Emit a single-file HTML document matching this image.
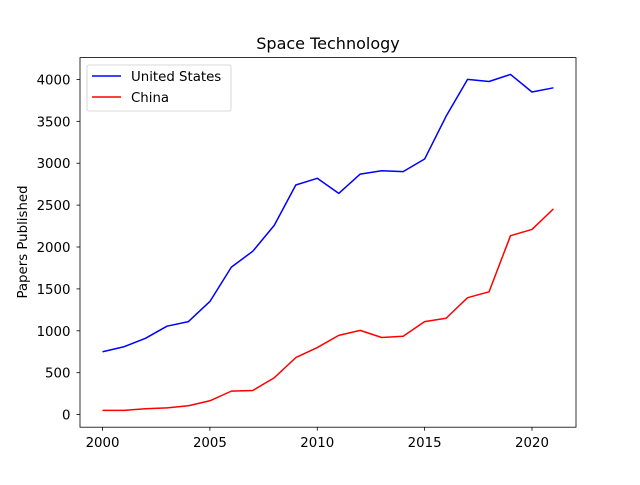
<!DOCTYPE html>
<html><head><meta charset="utf-8"><style>
body{margin:0;background:#fff;}
svg text{font-family:"DejaVu Sans","Liberation Sans",sans-serif;fill:#000;}
</style></head><body>
<svg id="chart" width="640" height="480" viewBox="0 0 640 480">
<rect width="640" height="480" fill="#fff"/>
<text x="328" y="49" font-size="16" text-anchor="middle">Space Technology</text>
<text transform="translate(27,242) rotate(-90)" font-size="13.33" text-anchor="middle">Papers Published</text>
<g id="ticks"></g>
<g id="series"></g>
<rect x="80" y="57.6" width="496" height="369.6" fill="none" stroke="#000" stroke-width="0.8"/>
<g>
<rect x="87" y="65" width="144" height="46" rx="2" fill="#fff" fill-opacity="0.8" stroke="#ccc" stroke-width="0.8"/>
<line x1="92" y1="76" x2="121" y2="76" stroke="#0000ff" stroke-width="1.5"/>
<text x="131" y="81" font-size="13.33">United States</text>
<line x1="92" y1="97" x2="121" y2="97" stroke="#ff0000" stroke-width="1.5"/>
<text x="131" y="102" font-size="13.33">China</text>
</g>
</svg>
<script>
const years=[2000,2001,2002,2003,2004,2005,2006,2007,2008,2009,2010,2011,2012,2013,2014,2015,2016,2017,2018,2019,2020,2021];
const usValues=[750,810,910,1055,1110,1350,1760,1950,2260,2740,2820,2640,2870,2910,2900,3050,3560,4000,3975,4060,3850,3900];
const chinaValues=[50,50,70,80,105,165,280,288,440,680,800,945,1005,920,935,1110,1150,1395,1465,2135,2210,2455];
const xTicks=[2000,2005,2010,2015,2020];
const yTicks=[0,500,1000,1500,2000,2500,3000,3500,4000];
const NS="http://www.w3.org/2000/svg";
const L=80,R=576,T=57.6,B=427.2;
const xmin=Math.min(...years),xmax=Math.max(...years),xm=(xmax-xmin)*0.05;
const all=usValues.concat(chinaValues);
const ymin=Math.min(...all),ymax=Math.max(...all),ym=(ymax-ymin)*0.05;
function sx(v){return L+(v-(xmin-xm))/((xmax+xm)-(xmin-xm))*(R-L);}
function sy(v){return B-(v-(ymin-ym))/((ymax+ym)-(ymin-ym))*(B-T);}
function mk(t,a,p){const e=document.createElementNS(NS,t);for(const k in a)e.setAttribute(k,a[k]);p.appendChild(e);return e;}
const tg=document.getElementById('ticks');
xTicks.forEach(v=>{const x=sx(v);
const l=mk('line',{x1:x,x2:x,y1:B,y2:B+3.5,stroke:'#000','stroke-width':0.8},tg);


const t=mk('text',{x:x,y:B+20,'font-size':13.33,'text-anchor':'middle'},tg);t.textContent=v;

});
yTicks.forEach(v=>{const y=sy(v);
const l=mk('line',{x1:L-3.5,x2:L,y1:y,y2:y,stroke:'#000','stroke-width':0.8},tg);


const t=mk('text',{x:L-9.5,y:y+5,'font-size':13.33,'text-anchor':'end'},tg);t.textContent=v;

});
const sg=document.getElementById('series');
function line(vals,color,name){const p=mk('polyline',{points:vals.map((v,i)=>sx(years[i])+','+sy(v)).join(' '),fill:'none',stroke:color,'stroke-width':1.5,'stroke-linejoin':'round'},sg);

}
line(usValues,'#0000ff','us-line');
line(chinaValues,'#ff0000','china-line');
</script>
</body></html>
